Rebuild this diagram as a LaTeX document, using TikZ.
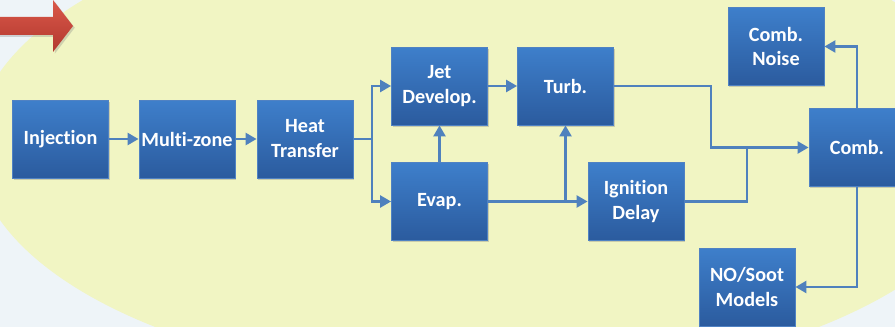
\documentclass[tikz,border=0pt]{standalone}
\usepackage{fontspec}
\setmainfont[Ligatures=NoCommon]{Carlito}
\usetikzlibrary{arrows.meta,shadows}

\definecolor{boxtop}{RGB}{62,127,203}
\definecolor{boxbot}{RGB}{43,91,158}
\definecolor{boxrim}{RGB}{80,130,195}
\definecolor{linkblue}{RGB}{79,129,189}
\definecolor{paleyellow}{RGB}{241,245,195}
\definecolor{paleback}{RGB}{238,244,248}
\definecolor{redtop}{RGB}{218,88,74}
\definecolor{redbot}{RGB}{178,56,46}

\tikzset{
  block/.style={draw=boxrim, line width=0.5pt, top color=boxtop, bottom color=boxbot,
    minimum width=1.92cm, minimum height=1.56cm, inner sep=1pt, align=center,
    text=white, font=\bfseries\fontsize{11.5}{14.2}\selectfont,
    drop shadow={shadow xshift=0.7pt, shadow yshift=-0.9pt, opacity=0.35}},
  link/.style={draw=linkblue, line width=1.4pt, -{Triangle[length=0.22cm,width=0.24cm]}},
  wire/.style={draw=linkblue, line width=1.4pt}
}

\begin{document}
\begin{tikzpicture}[x=0.02cm, y=-0.02cm]
    \useasboundingbox (0,0) rectangle (895,327);
    \clip (0,0) rectangle (895,327);
    \fill[paleback] (0,0) rectangle (895,327);
    \fill[paleyellow] (487,146) ellipse [x radius=10.25cm, y radius=4.75cm];
    \path[top color=redtop, bottom color=redbot,
        drop shadow={shadow xshift=1pt, shadow yshift=-1pt, opacity=0.3}]
        (-5,17) -- (53,17) -- (53,0) -- (73,26) -- (53,52) -- (53,35) -- (-5,35) -- cycle;

    \node[block] (inj)    at (60.5,139)  {Injection};
    \node[block] (mzone)  at (187,139)   {Multi-zone};
    \node[block] (heat)   at (305,139)   {Heat\\Transfer};
    \node[block] (jet)    at (439.5,86)  {Jet\\Develop.};
    \node[block] (turb)   at (565.5,86)  {Turb.};
    \node[block] (evap)   at (439.5,201.5) {Evap.};
    \node[block] (ign)    at (636,201.5) {Ignition\\Delay};
    \node[block] (noise)  at (776,46.5)  {Comb.\\Noise};
    \node[block] (comb)   at (857,147.5) {Comb.};
    \node[block] (nosoot) at (747,287)   {NO/Soot\\Models};

    \coordinate (split) at (372,139);
    \coordinate (join1) at (711,147.5);
    \coordinate (join2) at (747,147.5);

    \draw[link] (inj) -- (mzone);
    \draw[link] (mzone) -- (heat);
    \draw[wire] (heat.east) -- (split);
    \draw[link] (split) |- (jet.west);
    \draw[link] (split) |- (evap.west);
    \draw[link] (evap) -- (jet);
    \draw[link] (jet) -- (turb);
    \draw[link] (evap) -- (ign);
    \draw[link] (evap.east -| turb.south) -- (turb.south);
    \draw[link] (turb.east) -| (join1) -- (comb.west);
    \draw[wire] (ign.east) -| (join2);
    \draw[link] (comb.north) |- (noise.east);
    \draw[link] (comb.south) |- (nosoot.east);
\end{tikzpicture}
\end{document}
